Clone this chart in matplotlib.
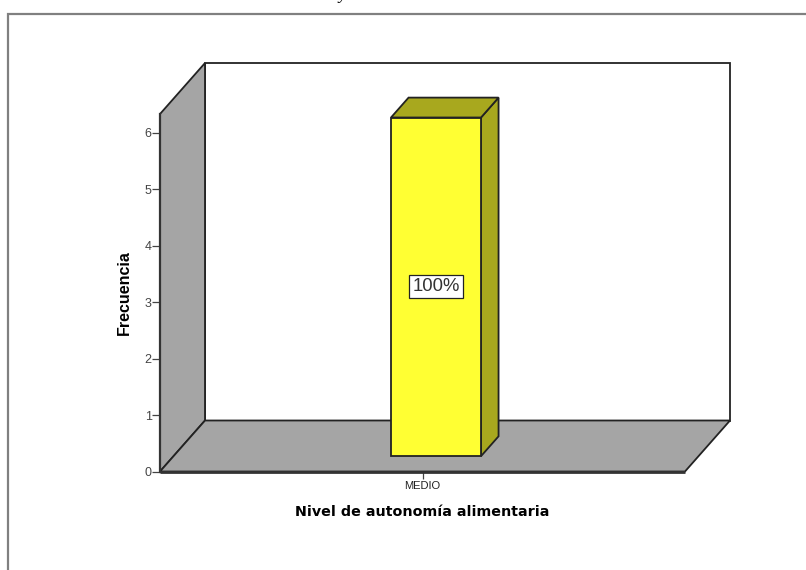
import matplotlib
matplotlib.use("Agg")
import matplotlib.pyplot as plt
from matplotlib.patches import Polygon, Rectangle

# Datos
categorias = ["MEDIO"]
frecuencia = [6]
porcentajes = ["100%"]
ticks_y = [0, 1, 2, 3, 4, 5, 6]

W, H = 806, 570
GRIS = "#a5a5a5"
AMARILLO = "#ffff33"
OLIVA = "#a8a81e"
BORDE = "#222222"

fig = plt.figure(figsize=(W / 100, H / 100), dpi=100, facecolor="white")
plt.rcParams["font.family"] = ["Liberation Sans", "DejaVu Sans"]

# marco exterior de la imagen, en pixeles
fig.add_artist(Rectangle((8 / W, -0.05), 1.0, (H - 14) / H + 0.05, transform=fig.transFigure,
                         fill=False, ec="#808080", lw=1.6))
# resto del titulo, cortado por el borde superior igual que en el original
fig.text(342 / W, 1 + 1 / H, "y", family="Liberation Serif", style="italic", fontsize=12.5,
         ha="center", va="baseline", color="black")

# plano frontal: 160-685 px en x, 471.5 px = 0
px_y = 56.45
y_max = 357.5 / px_y
ax = fig.add_axes([160 / W, 1 - 471.5 / H, 525 / W, 357.5 / H])
ax.set_xlim(-0.5, 0.5)
ax.set_ylim(0, y_max)
ax.patch.set_visible(False)
for s in ax.spines.values():
    s.set_visible(False)

# profundidad oblicua en unidades de datos
dx = 45 / 525
dy = 51 / px_y


def cara(puntos, color, lw=1.3, z=2):
    ax.add_patch(Polygon(puntos, closed=True, fc=color, ec=BORDE, lw=lw, joinstyle="miter",
                         clip_on=False, zorder=z))


x0, x1 = ax.get_xlim()
# pared del fondo, pared izquierda y suelo
cara([(x0 + dx, dy), (x1 + dx, dy), (x1 + dx, y_max + dy), (x0 + dx, y_max + dy)], "white")
cara([(x0, 0), (x0 + dx, dy), (x0 + dx, y_max + dy), (x0, y_max)], GRIS)
cara([(x0, 0), (x1, 0), (x1 + dx, dy), (x0 + dx, dy)], GRIS)
ax.plot([x0, x1], [0, 0], color="#333333", lw=2, clip_on=False, zorder=3, solid_capstyle="butt")
ax.plot([x0, x0], [0, y_max], color="#333333", lw=1.6, clip_on=False, zorder=3)

# barra 3D
ancho = 90 / 525
f_ini = 0.30
f_prof = 0.39
for i, (valor, etiqueta) in enumerate(zip(frecuencia, porcentajes)):
    xa = i + f_ini * dx - ancho / 2
    xb = xa + ancho
    ya = f_ini * dy
    yb = ya + valor
    bx, by = f_prof * dx, f_prof * dy
    cara([(xb, ya), (xb + bx, ya + by), (xb + bx, yb + by), (xb, yb)], OLIVA, z=4)
    cara([(xa, yb), (xb, yb), (xb + bx, yb + by), (xa + bx, yb + by)], OLIVA, z=4)
    cara([(xa, ya), (xb, ya), (xb, yb), (xa, yb)], AMARILLO, z=5)
    ax.text((xa + xb) / 2, (ya + yb) / 2, etiqueta, ha="center", va="center", fontsize=13.3,
            color="#333333", zorder=6,
            bbox=dict(boxstyle="square,pad=0.17", fc="white", ec="#222222", lw=0.9))

ax.set_xticks(range(len(categorias)))
ax.set_xticklabels(categorias, fontsize=8, color="#222222")
ax.set_yticks(ticks_y)
ax.tick_params(axis="x", length=5, width=0.9, color="#444444", pad=2)
ax.tick_params(axis="y", length=6, width=0.9, color="#444444", labelsize=9, labelcolor="#444444", pad=0)

fig.text(124.5 / W, 1 - 292.5 / H, "Frecuencia", rotation=90, ha="center", va="center",
         fontsize=11.5, fontweight="bold", color="black")
fig.text(422.5 / W, 1 - 512.5 / H, "Nivel de autonomía alimentaria", ha="center", va="center",
         fontsize=10.3, fontweight="bold", family="DejaVu Sans", color="black")

fig.savefig("out.png", dpi=100)
